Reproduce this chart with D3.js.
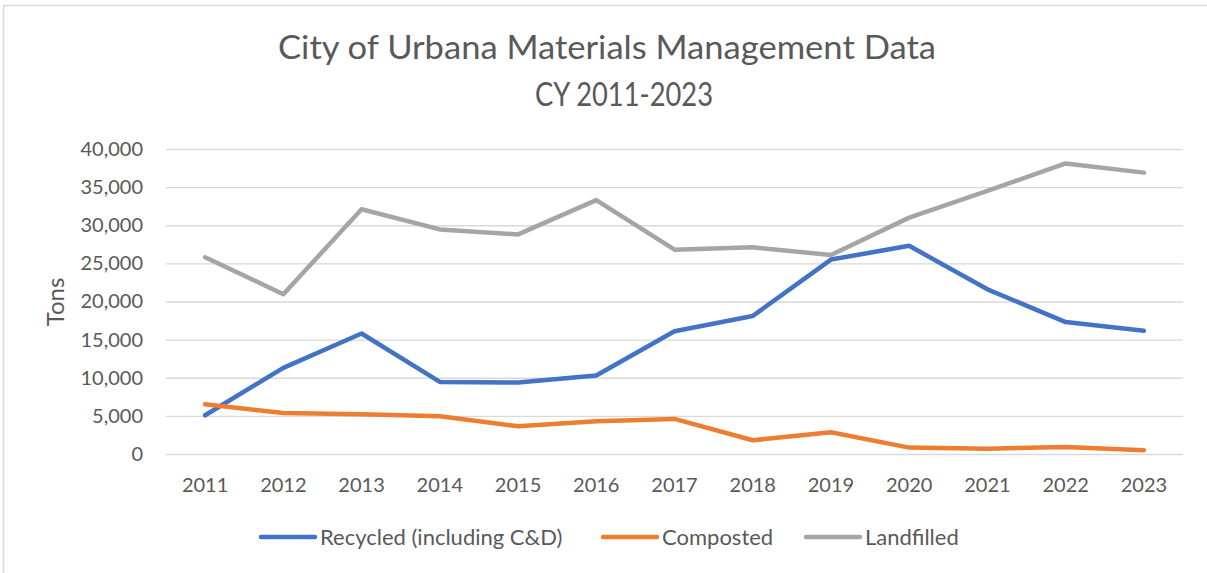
<!DOCTYPE html>
<html>
<head>
<meta charset="utf-8">
<script src="https://cdn.jsdelivr.net/npm/d3@7"></script>
<style>
  body { margin: 0; background: #fff; }
  text { font-family: Lato, "Open Sans", sans-serif; fill: #595959; }
</style>
</head>
<body>
<svg id="chart"></svg>
<script>
// chart data
const years = ['2011','2012','2013','2014','2015','2016','2017','2018','2019','2020','2021','2022','2023']
const recycled = [5080, 11300, 15800, 9450, 9370, 10300, 16100, 18100, 25500, 27300, 21600, 17300, 16150]
const composted = [6520, 5380, 5200, 4950, 3640, 4290, 4600, 1800, 2850, 840, 700, 920, 500]
const landfilled = [25800, 20960, 32100, 29450, 28800, 33300, 26800, 27100, 26100, 31000, 34500, 38100, 36900]
const seriesNames = ['Recycled (including C&D)', 'Composted', 'Landfilled']
const yTicks = [0, 5000, 10000, 15000, 20000, 25000, 30000, 35000, 40000]

const colors = ['#4472C4', '#ED7D31', '#A5A5A5']
const series = [recycled, composted, landfilled]

const width = 1207, height = 573
const margin = {top: 149, right: 24, bottom: 119, left: 166}
const chart_width = width - margin.left - margin.right
const chart_height = height - margin.top - margin.bottom

const svg = d3.select('#chart')
    .attr('width', width)
    .attr('height', height)

// outer border of the chart object
svg.append('rect')
    .attr('x', 3.5).attr('y', 5.5)
    .attr('width', width + 10).attr('height', height + 10)
    .attr('fill', 'none')
    .attr('stroke', '#d9d9d9')
    .attr('stroke-width', 1.5)

// title
const title = svg.append('text')
    .attr('text-anchor', 'middle')
    .attr('font-size', 32)
    .attr('font-weight', 400)
title.append('tspan').attr('x', 607).attr('y', 59)
    .attr('textLength', 658).attr('lengthAdjust', 'spacingAndGlyphs')
    .text('City of Urbana Materials Management Data')
title.append('tspan').attr('x', 624).attr('y', 106)
    .attr('textLength', 178).attr('lengthAdjust', 'spacingAndGlyphs')
    .text('CY 2011-2023')

const g = svg.append('g')
    .attr('transform', `translate(${margin.left},${margin.top})`)

const xScale = d3.scaleBand()
    .domain(years)
    .range([0, chart_width])

const yScale = d3.scaleLinear()
    .domain([0, 40000])
    .range([chart_height, 0])

const yAxis = d3.axisLeft(yScale)
    .tickValues(yTicks)
    .tickSize(-chart_width)
    .tickPadding(23)
    .tickFormat(d3.format(','))

g.append('g')
    .attr('class', 'axis y-axis')
    .call(yAxis)
    .call(a => a.select('.domain').remove())
    .call(a => a.selectAll('line').attr('stroke', '#d9d9d9').attr('stroke-width', 1.3))
    .call(a => a.selectAll('text').attr('font-size', 20).attr('fill', '#595959').attr('font-family', 'Lato'))

const xAxis = d3.axisBottom(xScale)
    .tickSize(0)
    .tickPadding(24)

g.append('g')
    .attr('class', 'axis x-axis')
    .attr('transform', `translate(0,${chart_height})`)
    .call(xAxis)
    .call(a => a.select('.domain').remove())
    .call(a => a.selectAll('text').attr('font-size', 20).attr('fill', '#595959').attr('font-family', 'Lato'))

// y axis name
svg.append('text')
    .attr('transform', `translate(64,${302}) rotate(-90)`)
    .attr('text-anchor', 'middle')
    .attr('font-size', 24)
    .text('Tons')

const line = d3.line()
    .x((d, i) => xScale(years[i]) + xScale.bandwidth() / 2)
    .y(d => yScale(d))

g.selectAll('.line')
    .data(series)
    .join('path')
    .attr('class', 'line')
    .attr('fill', 'none')
    .attr('stroke', (d, i) => colors[i])
    .attr('stroke-width', 4.5)
    .attr('stroke-linecap', 'round')
    .attr('stroke-linejoin', 'round')
    .attr('d', line)

// legend
const legendX = [261, 603, 806]
const legend = svg.selectAll('.legend')
    .data(seriesNames)
    .join('g')
    .attr('class', 'legend')
    .attr('transform', (d, i) => `translate(${legendX[i]},537)`)

legend.append('line')
    .attr('x1', 0).attr('x2', 54)
    .attr('stroke', (d, i) => colors[i])
    .attr('stroke-width', 4.5)
    .attr('stroke-linecap', 'round')

legend.append('text')
    .attr('x', 59)
    .attr('y', 8)
    .attr('font-size', 22)
    .text(d => d)
</script>
</body>
</html>
